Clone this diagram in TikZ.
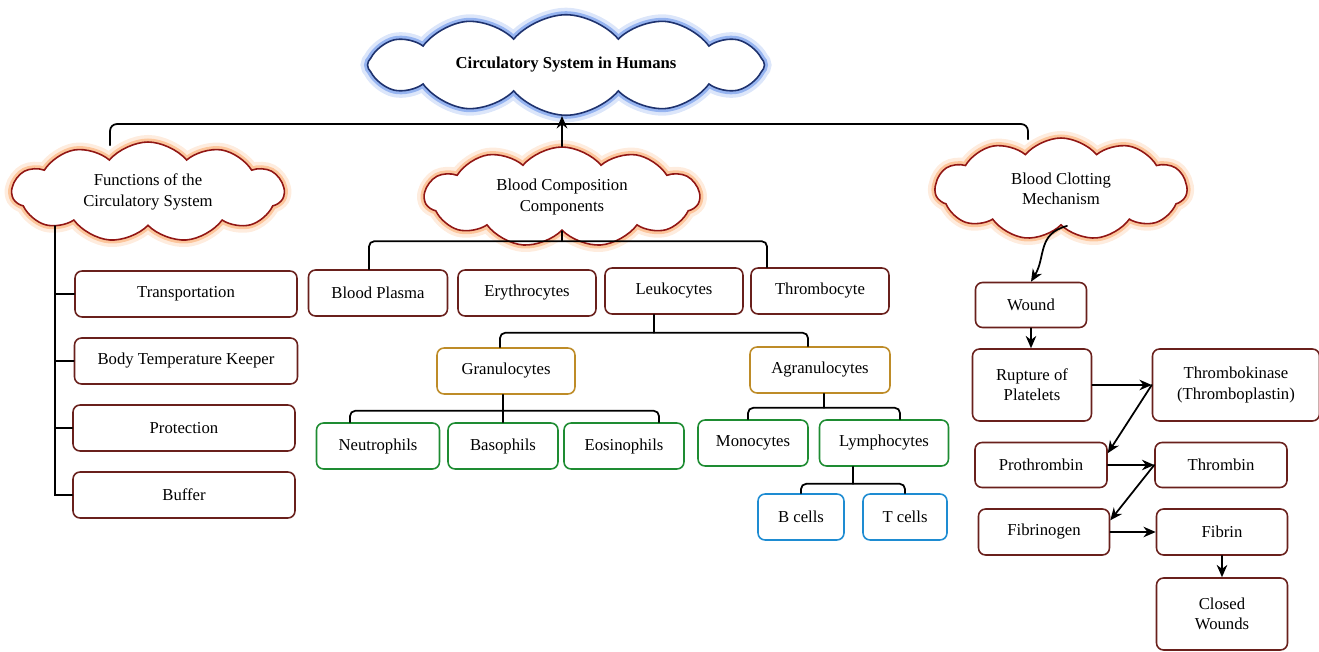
\documentclass[tikz,border=0pt]{standalone}
\usepackage{fontspec}
\setmainfont{Liberation Serif}
\usetikzlibrary{shapes.symbols, arrows.meta, calc, positioning}
\definecolor{boxred}{RGB}{105,32,28}
\definecolor{cloudred}{RGB}{145,22,20}
\definecolor{cloudblue}{RGB}{30,50,110}
\definecolor{glowor}{RGB}{250,160,90}
\definecolor{glowblue}{RGB}{80,130,230}
\definecolor{goldbox}{RGB}{190,140,40}
\definecolor{greenbox}{RGB}{30,140,50}
\definecolor{bluebox}{RGB}{30,140,210}

\begin{document}
\begin{tikzpicture}[x=0.02cm, y=-0.02cm, line cap=round,
    every node/.style={font=\fontsize{9.5}{11.5}\selectfont},
    box/.style={draw=boxred, line width=0.9pt, rounded corners=4pt, fill=white,
        minimum height=0.92cm, align=center, inner sep=2pt},
    gbox/.style={box, draw=goldbox},
    grbox/.style={box, draw=greenbox},
    blbox/.style={box, draw=bluebox},
    puff/.style={cloud, cloud puffs=11, cloud puff arc=100,
        draw=cloudred, line width=0.9pt, fill=white, align=center, inner sep=0pt,
        preaction={draw=#1, line width=8pt, opacity=0.2},
        preaction={draw=#1, line width=4pt, opacity=0.5}},
    puff/.default=glowor,
    conn/.style={line width=1pt, black},
    arr/.style={conn, -{Stealth[length=7pt, width=6pt]}}]

    \useasboundingbox (0,0) rectangle (1319,652);

    % clouds
    \node[puff=glowblue, draw=cloudblue, cloud puffs=12, aspect=4.8, minimum width=7.94cm, minimum height=1.66cm] (title) at (566,65) {\textbf{Circulatory System in Humans}};
    \node[puff, aspect=2.7, minimum width=5.44cm, minimum height=2cm] (func) at (148,192) {Functions of the\\Circulatory System};
    \node[puff, aspect=2.75, minimum width=5.5cm, minimum height=2cm] (comp) at (562,197) {Blood Composition\\Components};
    \node[puff, aspect=2.5, minimum width=5.04cm, minimum height=2.04cm] (clot) at (1061,189) {Blood Clotting\\Mechanism};

    % functions
    \node[box, minimum width=4.44cm] (transp) at (186,294) {Transportation};
    \node[box, minimum width=4.46cm] (bodytemp) at (186,361) {Body Temperature Keeper};
    \node[box, minimum width=4.44cm] (protect) at (184,428) {Protection};
    \node[box, minimum width=4.44cm] (buffer) at (184,495) {Buffer};

    % composition
    \node[box, minimum width=2.78cm] (plasma) at (378,293) {Blood Plasma};
    \node[box, minimum width=2.76cm] (erythro) at (527,293) {Erythrocytes};
    \node[box, minimum width=2.76cm] (leuko) at (674,291) {Leukocytes};
    \node[box, minimum width=2.76cm] (thrombo) at (820,291) {Thrombocyte};
    \node[gbox, minimum width=2.76cm] (granulo) at (506,371) {Granulocytes};
    \node[gbox, minimum width=2.8cm] (agranulo) at (820,370) {Agranulocytes};
    \node[grbox, minimum width=2.46cm] (neutro) at (378,446) {Neutrophils};
    \node[grbox, minimum width=2.2cm] (baso) at (503,446) {Basophils};
    \node[grbox, minimum width=2.4cm] (eosino) at (624,446) {Eosinophils};
    \node[grbox, minimum width=2.2cm] (mono) at (753,443) {Monocytes};
    \node[grbox, minimum width=2.58cm] (lympho) at (884,443) {Lymphocytes};
    \node[blbox, minimum width=1.72cm] (bcell) at (801,517) {B cells};
    \node[blbox, minimum width=1.68cm] (tcell) at (905,517) {T cells};

    % clotting
    \node[box, minimum width=2.22cm, minimum height=0.9cm] (wound) at (1031,305) {Wound};
    \node[box, minimum width=2.38cm, minimum height=1.44cm] (rupture) at (1032,385) {Rupture of\\Platelets};
    \node[box, minimum width=3.34cm, minimum height=1.44cm] (tkin) at (1236,385) {Thrombokinase\\(Thromboplastin)};
    \node[box, minimum width=2.64cm, minimum height=0.9cm] (prothr) at (1041,465) {Prothrombin};
    \node[box, minimum width=2.64cm, minimum height=0.9cm] (thrombin) at (1221,465) {Thrombin};
    \node[box, minimum width=2.62cm] (fibrino) at (1044,532) {Fibrinogen};
    \node[box, minimum width=2.62cm] (fibrin) at (1222,532) {Fibrin};
    \node[box, minimum width=2.62cm, minimum height=1.44cm] (closed) at (1222,614) {Closed\\Wounds};

    % top level
    \coordinate (bar) at (566,124);
    \draw[conn, rounded corners=4pt] ($(func.north)+(-38,4)$) |- (bar) -| ($(clot.north)+(-33,2)$);
    \draw[arr] (comp.north) -- (comp.north |- title.south);

    % function spine
    \coordinate (spine) at (55,226);
    \draw[conn] (spine) |- (buffer.west);
    \foreach \n in {transp, bodytemp, protect}
        \draw[conn] (spine |- \n.west) -- (\n.west);

    % composition tree
    \draw[conn, rounded corners=3pt] ($(plasma.north)+(-9,0)$) |- ($(comp.south)+(0,10)$) -| ($(thrombo.north)+(-53,0)$);
    \draw[conn] (comp.south) -- ++(0,10);
    \draw[conn, rounded corners=3pt] ($(granulo.north)+(-6,0)$) |- ($(leuko.south)+(-20,18)$) -| ($(agranulo.north)+(-12,0)$);
    \draw[conn] ($(leuko.south)+(-20,0)$) -- ++(0,18);
    \draw[conn, rounded corners=3pt] ($(neutro.north)+(-28,0)$) |- ($(granulo.south)+(0,16)$) -| ($(eosino.north)+(35,0)$);
    \draw[conn] (granulo.south -| baso.north) -- (baso.north);
    \draw[conn, rounded corners=3pt] ($(mono.north)+(-5,0)$) |- ($(agranulo.south)+(4,14)$) -| ($(lympho.north)+(16,0)$);
    \draw[conn] ($(agranulo.south)+(4,0)$) -- ++(0,14);
    \draw[conn, rounded corners=3pt] (bcell.north) |- ($(lympho.south)+(-31,17)$) -| (tcell.north);
    \draw[conn] ($(lympho.south)+(-31,0)$) -- ++(0,17);

    % clotting chain
    \draw[arr] ($(clot.south)+(6,0)$) .. controls +(-30,8) and +(15,-25) .. (wound.north);
    \draw[arr] (wound.south) -- (wound.south |- rupture.north);
    \draw[arr] (rupture.east) -- (tkin.west);
    \draw[arr] (tkin.west) -- (prothr.10);
    \draw[arr] (prothr.east) -- (thrombin.west);
    \draw[arr] (thrombin.west) -- (fibrino.10);
    \draw[arr] (fibrino.east) -- (fibrin.west);
    \draw[arr] (fibrin.south) -- (closed.north);
\end{tikzpicture}
\end{document}
